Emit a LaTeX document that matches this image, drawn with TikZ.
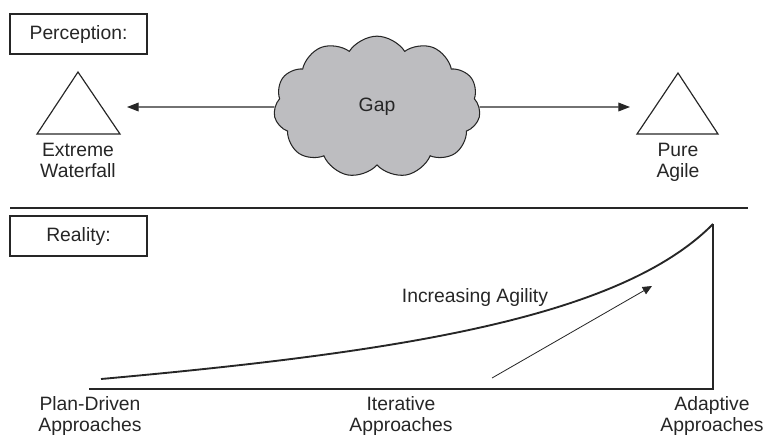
\documentclass[tikz,border=0pt]{standalone}
\usepackage{fontspec}
\setmainfont{Liberation Sans}
\usetikzlibrary{arrows.meta, positioning, shapes.symbols}
\definecolor{ink}{HTML}{262626}
\definecolor{cloudgray}{HTML}{BDBDC0}

\begin{document}
\begin{tikzpicture}[
  x=0.03cm, y=-0.03cm,
  >={Triangle[length=10pt, width=7.5pt]},
  lbl/.style={font=\fontsize{16.5}{18}\selectfont, text=ink, align=center, inner sep=0pt},
  tagbox/.style={lbl, draw=ink, line width=0.9pt, minimum width=4.11cm, minimum height=1.2cm},
  tri/.style={draw=ink, line width=1pt, line join=miter},
  conn/.style={->, draw=ink, line width=1pt},
]

% Canvas
\useasboundingbox (0,0) rectangle (768,437);

% === Top: Perception ===
\node[tagbox] (perc) at (78.5,34) {Perception:};

\draw[tri] (37,134) -- (78,72) -- (120,134) -- cycle;
\draw[tri] (637,134) -- (678,73) -- (718,134) -- cycle;

\node[lbl, anchor=north] (wflbl) at (78,143) {Extreme\\Waterfall};
\node[lbl, anchor=north] (aglbl) at (678,143) {Pure\\Agile};

\node[cloud, cloud puffs=11, cloud puff arc=115, cloud ignores aspect,
      draw=ink, fill=cloudgray, line width=0.9pt,
      minimum width=6.2cm, minimum height=4.25cm, lbl] (gap) at (377,107) {Gap};

\coordinate (wftip) at (127,107);
\coordinate (agtip) at (630,107);
\draw[conn] (gap.west) -- (wftip);
\draw[conn] (gap.east) -- (agtip);

% Separator
\coordinate (sepl) at (10,208);
\coordinate (sepr) at (748,208);
\draw[ink, line width=2pt] (sepl) -- (sepr);

% === Bottom: Reality ===
\node[tagbox] (real) at (78.5,236) {Reality:};

\coordinate (origin) at (89,389);
\coordinate (corner) at (713,389);
\coordinate (peak) at (713,224);
\coordinate (low) at (101,379);
\draw[ink, line width=0.9pt] (origin) -- (corner) -- (peak);
\draw[ink, line width=1.6pt] (low) .. controls (400,352) and (620,318) .. (peak);

\node[lbl, anchor=base] (incr) at (475,302) {Increasing Agility};

\coordinate (agfrom) at (492,378);
\coordinate (agto) at (652,286);
\draw[conn, line width=0.7pt, >={Triangle[length=8pt, width=7pt]}] (agfrom) -- (agto);

\node[lbl, anchor=north] (plan) at (90,396) {Plan-Driven\\Approaches};
\node[lbl, anchor=north] (iter) at (401,396) {Iterative\\Approaches};
\node[lbl, anchor=north] (adapt) at (712,396) {Adaptive\\Approaches};

\end{tikzpicture}
\end{document}
